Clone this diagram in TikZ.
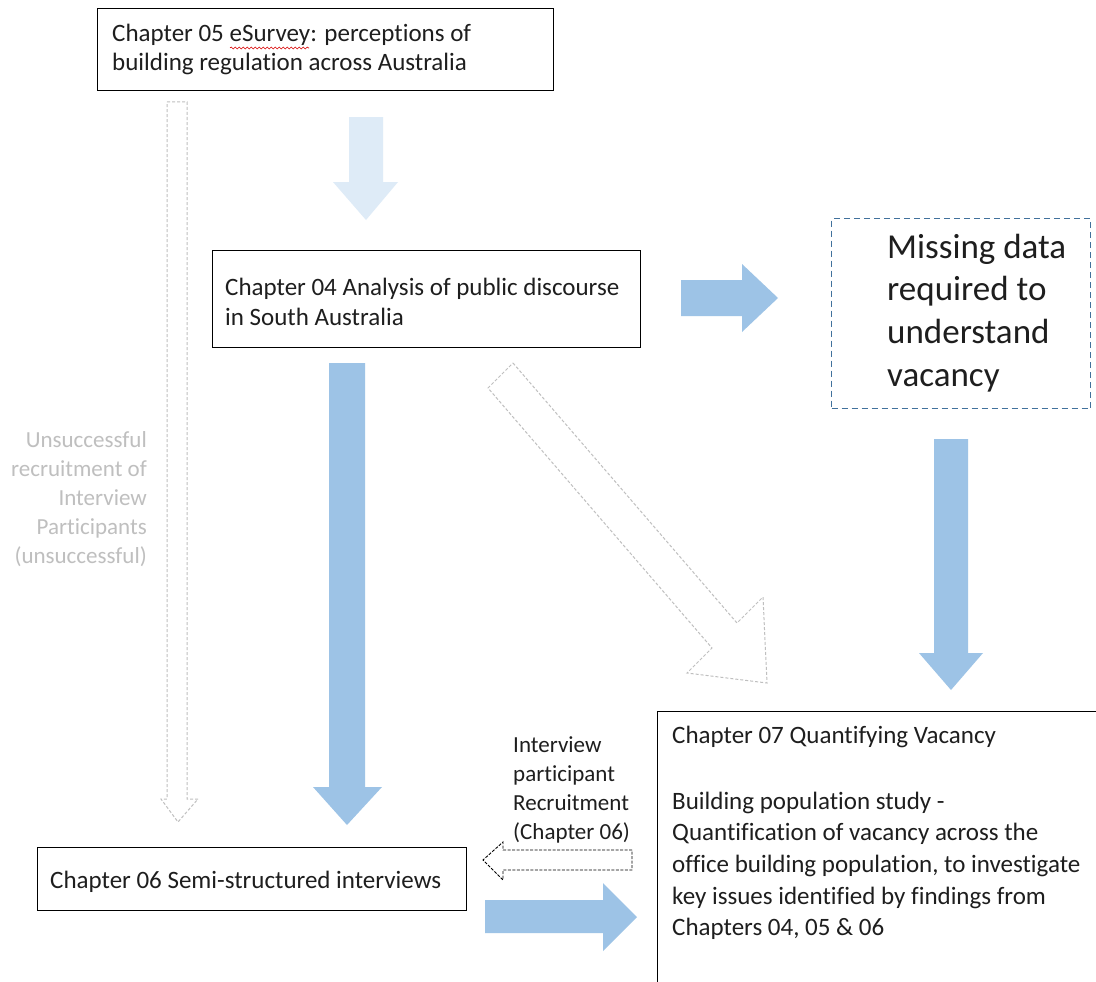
\documentclass[tikz,border=0pt]{standalone}
\usepackage{fontspec}
\setmainfont{Carlito}[Ligatures={NoCommon,NoContextual},RawFeature={-clig;-calt}]
\usetikzlibrary{decorations.pathmorphing}

\definecolor{arrowblue}{HTML}{9DC3E6}
\definecolor{paleblue}{HTML}{DEEBF7}
\definecolor{dashblue}{HTML}{41719C}
\definecolor{ghost}{HTML}{BFBFBF}
\definecolor{ink}{HTML}{1E1E1E}

% stacked lines whose reference point is the first baseline
\newcommand{\leftlines}[2]{\vtop{\baselineskip=#1\lineskip=0pt\lineskiplimit=-100pt
  \halign{##\hfil\cr #2\crcr}}}
\newcommand{\rightlines}[2]{\vtop{\baselineskip=#1\lineskip=0pt\lineskiplimit=-100pt
  \halign{\hfil##\cr #2\crcr}}}

\begin{document}
\begin{tikzpicture}[x=1pt,y=-1pt,
  chapterbox/.style={draw=black,line width=1.4pt,fill=white,anchor=north west,inner sep=0pt},
  boxtext/.style={font=\fontsize{25}{30}\selectfont,anchor=base west,inner sep=0pt,text=ink},
  smalltext/.style={font=\fontsize{23}{28}\selectfont,inner sep=0pt},
  blockarrow/.style={fill=arrowblue,draw=none},
  palearrow/.style={fill=paleblue,draw=none},
  ghostarrow/.style={draw=ghost,line width=1pt,dash pattern=on 3pt off 2pt,line join=miter},
  inkarrow/.style={draw=black,line width=0.9pt,dash pattern=on 3pt off 1.5pt,line join=miter},
]
\useasboundingbox (0,0) rectangle (1096,982);
\clip (0,0) rectangle (1096,982);
\fill[white] (0,0) rectangle (1096,982);

% ---- chapter boxes ----
\node[chapterbox,minimum width=456pt,minimum height=82pt] (ch05) at (97,8) {};
\node[boxtext] (ch05text) at (112,42)
  {\leftlines{29pt}{Chapter 05 eSurvey: perceptions of\cr building regulation across Australia}};
% spelling squiggle under "eSurvey"
\draw[red!85!black,line width=0.6pt,decorate,
  decoration={snake,amplitude=1pt,segment length=4pt}] (230,48) -- (309,48);

\node[chapterbox,minimum width=428pt,minimum height=97pt] (ch04) at (212,250) {};
\node[boxtext] (ch04text) at (225,295)
  {\leftlines{30pt}{Chapter 04 Analysis of public discourse\cr in South Australia}};

\node[chapterbox,minimum width=429pt,minimum height=63pt] (ch06) at (37,847) {};
\node[boxtext] (ch06text) at (50,888) {Chapter 06 Semi-structured interviews};

\node[chapterbox,minimum width=460pt,minimum height=300pt] (ch07) at (657,711) {};
\node[boxtext] (ch07title) at (672,743) {Chapter 07 Quantifying Vacancy};
\node[boxtext] (ch07body) at (672,809)
  {\leftlines{31.7pt}{Building population study -\cr
   Quantification of vacancy across the\cr
   office building population, to investigate\cr
   key issues identified by findings from\cr
   Chapters 04, 05 \& 06}};

% ---- missing data box ----
\node[draw=dashblue,line width=1.3pt,dash pattern=on 6pt off 4pt,anchor=north west,
  inner sep=0pt,minimum width=259pt,minimum height=190pt] (missing) at (831,218) {};
\node[font=\fontsize{35}{42}\selectfont,anchor=base west,inner sep=0pt,text=ink] (missingtext) at (887,258)
  {\leftlines{42.8pt}{Missing data\cr required to\cr understand\cr vacancy}};

% ---- side labels ----
\node[smalltext,text=ghost,anchor=base east] (unsuccessful) at (147,447)
  {\rightlines{29pt}{Unsuccessful\cr recruitment of\cr Interview\cr Participants\cr (unsuccessful)}};
\node[smalltext,text=ink,anchor=base west] (recruit) at (513,752)
  {\leftlines{29pt}{Interview\cr participant\cr Recruitment\cr (Chapter 06)}};

% ---- block arrows ----
% ch05 -> ch04 (pale)
\path[palearrow] (349,117) -- (383,117) -- (383,182) -- (398,182) -- (366,220)
  -- (333,182) -- (349,182) -- cycle;
% ch04 -> missing data
\path[blockarrow] (681,280) -- (742,280) -- (742,264) -- (778,298) -- (742,332)
  -- (742,316) -- (681,316) -- cycle;
% missing data -> ch07
\path[blockarrow] (934,439) -- (968,439) -- (968,653) -- (983,653) -- (951,690)
  -- (919,653) -- (934,653) -- cycle;
% ch04 -> ch06
\path[blockarrow] (329,363) -- (365,363) -- (365,787) -- (382,787) -- (347,825)
  -- (313,787) -- (329,787) -- cycle;
% ch06 -> ch07
\path[blockarrow] (485,900) -- (603,900) -- (603,883) -- (637,917) -- (603,951)
  -- (603,933) -- (485,933) -- cycle;

% ---- outlined dashed arrows ----
% ch05 -> ch06 (unsuccessful)
\draw[ghostarrow] (167,102) -- (187,102) -- (187,799) -- (198,799) -- (178,822)
  -- (161,799) -- (167,799) -- cycle;
% ch04 -> ch07
\draw[ghostarrow] (513,363) -- (737,623) -- (763,597) -- (767,683) -- (687,673)
  -- (712,648) -- (488,388) -- cycle;
% ch07 -> ch06 recruitment
\draw[inkarrow] (632,850) -- (503,850) -- (503,842) -- (483,860) -- (503,880)
  -- (503,870) -- (632,870) -- cycle;
\end{tikzpicture}
\end{document}
